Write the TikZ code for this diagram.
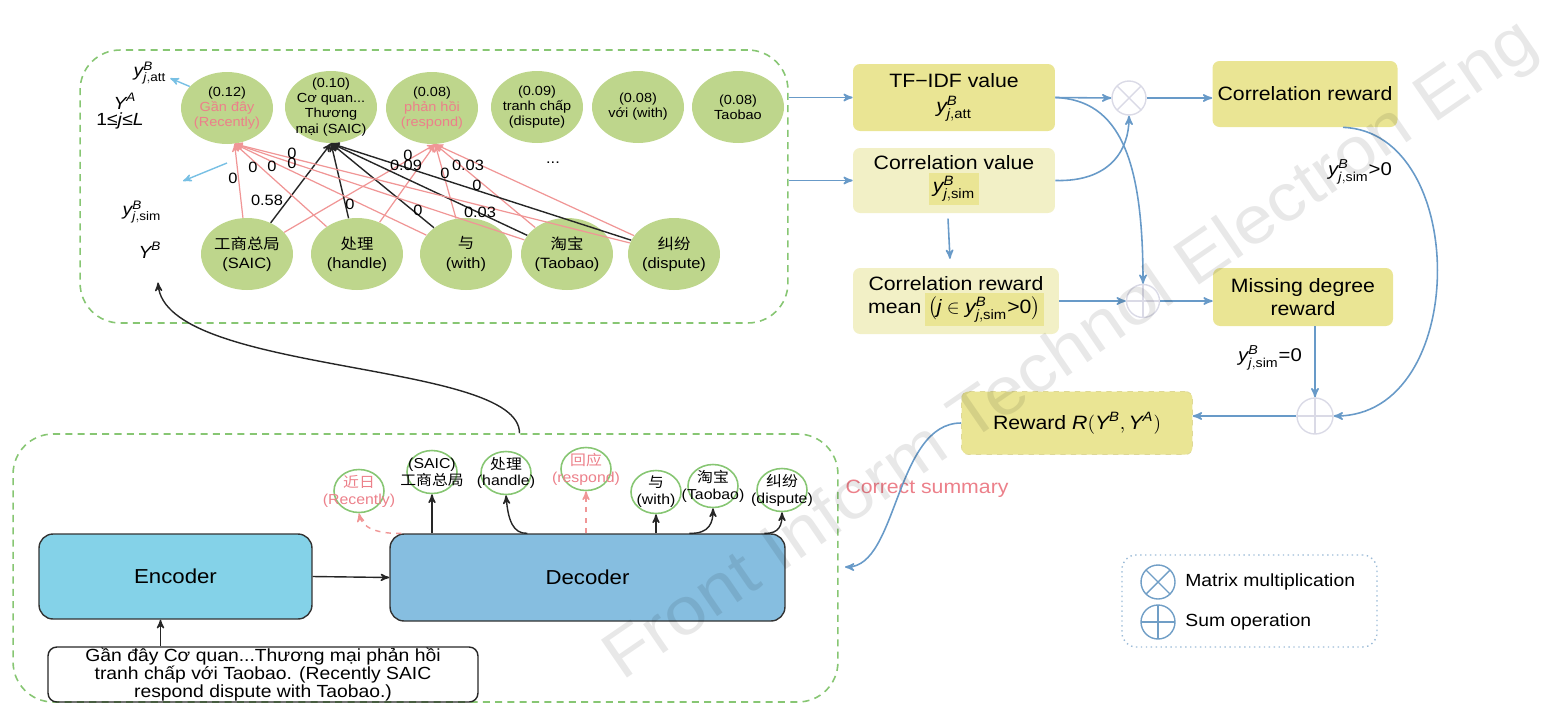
\documentclass[tikz,border=0pt]{standalone}
\usepackage{amsmath}
\usepackage{fontspec}
\setmainfont{Liberation Sans}[FakeStretch=1.1]
\newfontfamily\cjk{Noto Sans CJK SC}[FakeStretch=1.1]
\usepackage{xcolor}
\usepackage{tikz}
\usetikzlibrary{arrows}
\usetikzlibrary{shapes.geometric}
\usetikzlibrary{calc}

\definecolor{leaf}{RGB}{190,214,140}
\definecolor{panelgreen}{RGB}{135,198,115}
\definecolor{pinkline}{RGB}{240,150,150}
\definecolor{pinktext}{RGB}{236,128,138}
\definecolor{skyline}{RGB}{120,192,228}
\definecolor{steel}{RGB}{104,154,200}
\definecolor{ydark}{RGB}{234,229,148}
\definecolor{ylight}{RGB}{242,240,198}
\definecolor{rborder}{RGB}{222,216,150}
\definecolor{encblue}{RGB}{132,210,232}
\definecolor{decblue}{RGB}{134,190,224}
\definecolor{opgray}{RGB}{218,218,230}
\definecolor{legblue}{RGB}{112,158,198}

\newcommand{\ysub}[1]{$\textit{y}^{\textit{B}}_{\textit{j},\text{#1}}$}
\newcommand{\pk}[1]{\textcolor{pinktext}{#1}}
\newcommand{\hlbox}[1]{{\setlength{\fboxsep}{2pt}\colorbox{ydark}{#1}}}

\tikzset{
    txt/.style = {align=center, inner sep=0pt, text centered},
    top_node/.style = {ellipse, fill=leaf, minimum width=1.84cm, minimum height=1.44cm, inner sep=0pt},
    top_text/.style = {txt, font=\fontsize{7.5}{8.6}\selectfont},
    bot_text/.style = {txt, font=\fontsize{8.5}{11}\selectfont},
    out_node/.style = {ellipse, draw=panelgreen, line width=0.9pt, minimum width=1cm, minimum height=0.86cm, inner sep=0pt},
    out_text/.style = {txt, font=\fontsize{8.2}{9.6}\selectfont},
    wlab/.style = {txt, font=\fontsize{8.5}{8.5}\selectfont},
    panel/.style = {draw=panelgreen, dash pattern=on 4pt off 3pt, line width=0.9pt, rounded corners=0.8cm},
    ybox/.style = {txt, rounded corners=4pt, fill=ydark, font=\fontsize{11}{13}\selectfont},
    lbox/.style = {ybox, fill=ylight},
    code_box/.style = {txt, rounded corners=8pt, draw=black!80, line width=0.8pt, font=\fontsize{11.5}{13}\selectfont},
    op_mul/.style = {circle, draw=#1, line width=0.8pt, minimum size=0.68cm, inner sep=0pt,
        path picture={\draw[#1, line width=0.8pt] (path picture bounding box.north west) -- (path picture bounding box.south east)
                                                  (path picture bounding box.north east) -- (path picture bounding box.south west);}},
    op_mul/.default = opgray,
    op_sum/.style = {circle, draw=#1, line width=0.8pt, minimum size=0.66cm, inner sep=0pt,
        path picture={\draw[#1, line width=0.8pt] (path picture bounding box.north) -- (path picture bounding box.south)
                                                  (path picture bounding box.west) -- (path picture bounding box.east);}},
    op_sum/.default = opgray,
    flow/.style = {->, >=stealth', draw=steel, line width=0.9pt},
    blk/.style = {->, >=stealth', draw=black!85, line width=0.8pt},
    pk_edge/.style = {->, >=stealth', draw=pinkline, line width=0.7pt},
    bk_edge/.style = {->, >=stealth', draw=black!85, line width=0.8pt},
    sky_arrow/.style = {->, >=stealth', draw=skyline, line width=0.8pt},
    pk_dash/.style = {->, >=stealth', draw=pinkline, dashed, line width=0.8pt}
}

\begin{document}
\begin{tikzpicture}[x=0.02cm, y=-0.02cm]
\useasboundingbox (0,0) rectangle (1548,704);

% panels
\node[panel, minimum width=14.16cm, minimum height=5.46cm] (top_panel) at (434,186.5) {};
\node[panel, minimum width=16.5cm, minimum height=5.36cm] (bot_panel) at (425.5,568) {};

% summary words with weights
\node[top_node, label={[top_text]center:{(0.12)\\\pk{Gần đây}\\\pk{(Recently)}}}] (t1) at (227,108) {};
\node[top_node, label={[top_text]center:{(0.10)\\Cơ quan...\\Thương\\mại (SAIC)}}] (t2) at (331,107) {};
\node[top_node, label={[top_text]center:{(0.08)\\\pk{phản hồi}\\\pk{(respond)}}}] (t3) at (432,108) {};
\node[top_node, label={[top_text]center:{(0.09)\\tranh chấp\\(dispute)}}] (t4) at (537,107) {};
\node[top_node, label={[top_text]center:{(0.08)\\với (with)}}] (t5) at (638,107) {};
\node[top_node, label={[top_text]center:{(0.08)\\Taobao}}] (t6) at (738,107) {};

% reference words
\node[top_node, label={[bot_text]center:{{\cjk 工商总局}\\(SAIC)}}] (b1) at (247,254) {};
\node[top_node, label={[bot_text]center:{{\cjk 处理}\\(handle)}}] (b2) at (357,254) {};
\node[top_node, label={[bot_text]center:{{\cjk 与}\\(with)}}] (b3) at (466,254) {};
\node[top_node, label={[bot_text]center:{{\cjk 淘宝}\\(Taobao)}}] (b4) at (567,254) {};
\node[top_node, label={[bot_text]center:{{\cjk 纠纷}\\(dispute)}}] (b5) at (674,254) {};

\foreach \i in {1,...,5} {
    \draw[pk_edge] (b\i) -- (t1.-78);
    \draw[pk_edge] (b\i) -- (t3.-85);
    \draw[bk_edge] (b\i) -- (t2.south);
}

\foreach \x/\y/\w [count=\k] in {233/178/0, 253/167/0, 272/166/0, 292/153/0, 292/163/0, 267/200/0.58,
        350/204/0, 408/155/0, 406/165/0.09, 445/173/0, 468/165/0.03, 477/185/0, 418/210/0, 480/212/0.03}
    \node[wlab] (w\k) at (\x,\y) {\w};
\node[wlab] (dots) at (553,163) {...};

% left labels
\node[txt, font=\fontsize{10}{12}\selectfont] (y_att) at (150,73) {\ysub{att}};
\node[txt, font=\fontsize{10}{12}\selectfont] (y_A) at (125,101) {$\textit{Y}^{\textit{A}}$};
\node[txt, font=\fontsize{10}{12}\selectfont] (j_rng) at (120,121) {1≤\textit{j}≤\textit{L}};
\node[txt, font=\fontsize{10}{12}\selectfont] (y_sim) at (142,212) {\ysub{sim}};
\node[txt, font=\fontsize{10}{12}\selectfont] (y_B) at (150,250) {$\textit{Y}^{\textit{B}}$};

\coordinate (sim_from) at (227,163);
\coordinate (sim_to) at (183,181);
\draw[sky_arrow] (t1.150) -- ([xshift=2pt,yshift=-3pt]y_att.east);
\draw[sky_arrow] (sim_from) -- (sim_to);

% reward computation
\node[ybox, minimum width=4.04cm, minimum height=1.34cm] (tfidf) at (954,97.5) {TF−IDF value\\[1pt]\ysub{att}};
\node[lbox, minimum width=4.04cm, minimum height=1.3cm] (corrv) at (954,180.5) {Correlation value\\\hlbox{\ysub{sim}}};
\node[lbox, minimum width=4.12cm, minimum height=1.32cm] (corrm) at (956,301)
    {Correlation reward\\mean\,\hlbox{$\bigl(\textit{j}\in\textit{y}^{\textit{B}}_{\textit{j},\text{sim}}\text{>0}\bigr)$}};
\node[ybox, minimum width=3.7cm, minimum height=1.32cm] (corrr) at (1305,94) {Correlation reward};
\node[ybox, minimum width=3.6cm, minimum height=1.16cm] (miss) at (1303,297) {Missing degree\\reward};
\node[ybox, draw=rborder, dashed, minimum width=4.62cm, minimum height=1.26cm] (reward) at (1077,423)
    {Reward $\textit{R}(\textit{Y}^{\textit{B}},\textit{Y}^{\textit{A}})$};

\node[op_mul] (mul) at (1129,98) {};
\node[op_sum] (sum1) at (1143,301) {};
\node[op_sum, minimum size=0.72cm] (sum2) at (1315,416) {};

\node[txt, font=\fontsize{10.5}{12}\selectfont] (gt0) at (1360,172) {\ysub{sim}>0};
\node[txt, font=\fontsize{10.5}{12}\selectfont] (eq0) at (1270,358) {\ysub{sim}=0};
\node[txt, text=pinktext, font=\fontsize{11}{13}\selectfont] (corr_sum) at (927,489) {Correct summary};

\draw[flow] (top_panel.east |- tfidf.west) -- (tfidf.west);
\draw[flow] (top_panel.east |- corrv.west) -- (corrv.west);
\draw[flow] (tfidf.east) -- (mul.west);
\draw[flow] (tfidf.east) .. controls (1120,100) and (1143,160) .. (sum1.north);
\draw[flow] (corrv.east) .. controls (1110,182) and (1129,150) .. (mul.south);
\draw[flow] ([xshift=-0.12cm,yshift=-3pt]corrv.south) -- ([xshift=-0.12cm,yshift=5pt]corrm.north);
\draw[flow] (corrm.east) -- (sum1.west);
\draw[flow] (mul.east) -- (mul.east -| corrr.west);
\draw[flow] (sum1.east) -- (sum1.east -| miss.west);
\draw[flow] ([xshift=0.76cm]corrr.south) .. controls (1470,132) and (1470,416) .. (sum2.east);
\draw[flow] (sum2.north |- miss.south) -- (sum2.north);
\draw[flow] (sum2.west) -- (sum2.west -| reward.east);
\coordinate (dec_in) at (845,567);
\draw[flow] (reward.west) .. controls (895,423) and (898,567) .. (dec_in);

% encoder / decoder
\node[code_box, fill=encblue, minimum width=5.46cm, minimum height=1.7cm] (enc) at (175.5,576.5) {Encoder};
\node[code_box, fill=decblue, minimum width=7.9cm, minimum height=1.74cm] (dec) at (587.5,577.5) {Decoder};
\node[txt, draw=black!85, rounded corners=5pt, line width=0.8pt, minimum width=8.6cm, minimum height=1.1cm,
      font=\fontsize{10}{10.4}\selectfont] (src) at (263,674.5)
    {Gần đây Cơ quan...Thương mại phản hồi\\tranh chấp với Taobao. (Recently SAIC\\respond dispute with Taobao.)};

\draw[blk] ([xshift=-0.3cm]enc.south |- src.north) -- ([xshift=-0.3cm]enc.south);
\draw[blk] (enc.east) -- (dec.west);

\node[out_node, label={[out_text]center:{\pk{\cjk 近日}\\\pk{(Recently)}}}] (o1) at (359,491) {};
\node[out_node, label={[out_text]center:{(SAIC)\\{\cjk 工商总局}}}] (o2) at (432,472) {};
\node[out_node, label={[out_text]center:{{\cjk 处理}\\(handle)}}] (o3) at (506,473) {};
\node[out_node, label={[out_text]center:{\pk{\cjk 回应}\\\pk{(respond)}}}] (o4) at (586,469) {};
\node[out_node, label={[out_text]center:{{\cjk 与}\\(with)}}] (o5) at (656,492) {};
\node[out_node, label={[out_text]center:{{\cjk 淘宝}\\(Taobao)}}] (o6) at (713,486) {};
\node[out_node, label={[out_text]center:{{\cjk 纠纷}\\(dispute)}}] (o7) at (782,490) {};

\draw[pk_dash] ($(dec.north west)+(12,0)$) .. controls (378,534) and (362,528) .. (o1.south);
\draw[blk] (o2.south |- dec.north) -- (o2.south);
\draw[blk] ($(dec.north west)+(138,0)$) .. controls (513,534) and (508,520) .. (o3.south);
\draw[pk_dash] (o4.south |- dec.north) -- (o4.south);
\draw[blk] (o5.south |- dec.north) -- (o5.south);
\draw[blk] ($(dec.north west)+(300,0)$) .. controls (710,534) and (713,522) .. (o6.south);
\draw[blk] ($(dec.north west)+(375,0)$) .. controls (780,534) and (782,524) .. (o7.south);

\draw[blk] ($(bot_panel.north)+(94,0)$) .. controls (520,360) and (165,375) .. ($(y_B.south)+(8,24)$);

% legend
\node[draw=legblue!70, dotted, rounded corners=8pt, line width=0.8pt, minimum width=5.1cm, minimum height=1.84cm] (legend) at (1249.5,601) {};
\node[op_mul=legblue, minimum size=0.68cm] (leg_mul) at (1158,582) {};
\node[op_sum=legblue, minimum size=0.68cm] (leg_sum) at (1158,622) {};
\node[txt, anchor=west, font=\fontsize{10}{12}\selectfont] (leg_mul_t) at (1185,582) {Matrix multiplication};
\node[txt, anchor=west, font=\fontsize{10}{12}\selectfont] (leg_sum_t) at (1185,622) {Sum operation};

% watermark
\node[txt, rotate=34.5, opacity=0.09, font=\fontsize{38}{38}\selectfont] (wmark) at (1072,352) {Front Inform Technol Electron Eng};
\end{tikzpicture}
\end{document}
